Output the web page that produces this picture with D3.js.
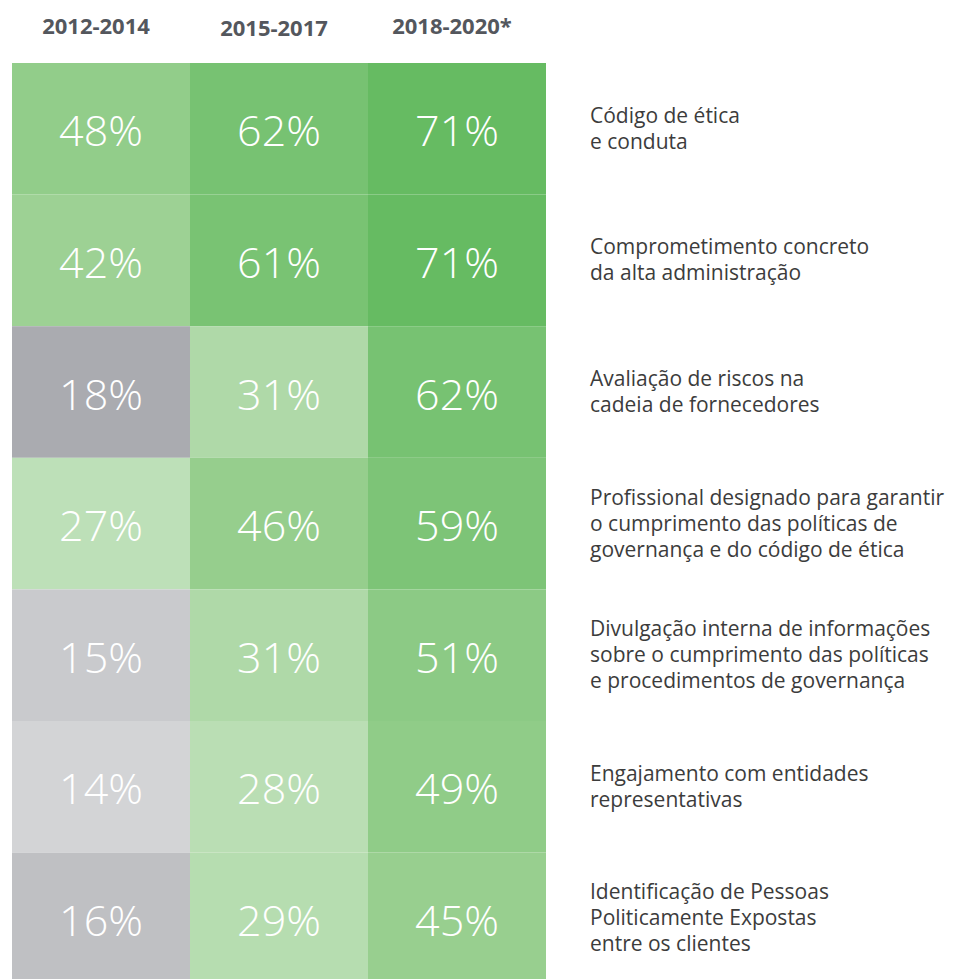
<!DOCTYPE html>
<html lang="pt">
<head>
  <meta charset="UTF-8" />
  <title>Práticas de governança</title>
  <script src="https://d3js.org/d3.v7.min.js"></script>
  <style>
    body {
      margin: 0;
      background: #fff;
      font-family: "Open Sans", sans-serif;
    }
    svg { display: block; }
    .head {
      font-size: 22px;
      font-weight: 700;
      fill: #54575d;
      text-anchor: middle;
    }
    .val {
      font-size: 43px;
      font-weight: 300;
      fill: #fff;
      text-anchor: middle;
      dominant-baseline: central;
    }
    .label {
      font-size: 21px;
      fill: #3c3c3c;
    }
  </style>
</head>
<body>
<svg></svg>
<script>
const periods = ["2012-2014", "2015-2017", "2018-2020*"];
const items = [
  "Código de ética\ne conduta",
  "Comprometimento concreto\nda alta administração",
  "Avaliação de riscos na\ncadeia de fornecedores",
  "Profissional designado para garantir\no cumprimento das políticas de\ngovernança e do código de ética",
  "Divulgação interna de informações\nsobre o cumprimento das políticas\ne procedimentos de governança",
  "Engajamento com entidades\nrepresentativas",
  "Identificação de Pessoas\nPoliticamente Expostas\nentre os clientes"
];
const v2012 = [48, 42, 18, 27, 15, 14, 16];
const v2015 = [62, 61, 31, 46, 31, 28, 29];
const v2018 = [71, 71, 62, 59, 51, 49, 45];

const width = 953, height = 979;
const svg = d3.select("svg").attr("width", width).attr("height", height);

const cells = [];
[v2012, v2015, v2018].forEach((vals, c) => {
  vals.forEach((v, r) => cells.push({ period: periods[c], item: items[r], value: v }));
});

const x = d3.scaleBand().domain(periods).range([12, 546]);
const y = d3.scaleBand().domain(items).range([63, 63 + 131.6 * items.length]);

// cinza para valores baixos, verde para o resto
const grey = d3.scaleLinear().domain([14, 18]).range(["#d3d4d6", "#aaabb0"]);
const green = d3.scaleLinear()
  .domain([27, 31, 45, 71])
  .range(["#bde0b8", "#afd9a8", "#98cf8f", "#66bb62"]);
const color = v => v < 20 ? grey(v) : green(v);

svg.selectAll(".head")
  .data(periods)
  .join("text")
  .attr("class", "head")
  .attr("x", d => x(d) + x.bandwidth() / 2 - 5)
  .attr("y", (d, i) => i === 1 ? 36 : 34)
  .text(d => d);

svg.selectAll("rect")
  .data(cells)
  .join("rect")
  .attr("x", d => x(d.period))
  .attr("y", d => y(d.item))
  .attr("width", x.bandwidth())
  .attr("height", y.bandwidth())
  .attr("fill", d => color(d.value));

svg.selectAll(".val")
  .data(cells)
  .join("text")
  .attr("class", "val")
  .attr("x", d => x(d.period) + x.bandwidth() / 2)
  .attr("y", d => y(d.item) + y.bandwidth() / 2 + 1)
  .text(d => d.value + "%");

const lh = 26;
svg.selectAll(".label")
  .data(items)
  .join("text")
  .attr("class", "label")
  .each(function(d) {
    const lines = d.split("\n");
    const cy = y(d) + y.bandwidth() / 2;
    d3.select(this).selectAll("tspan")
      .data(lines)
      .join("tspan")
      .attr("x", 590)
      .attr("y", (l, i) => cy + (i - (lines.length - 1) / 2) * lh + 7)
      .text(l => l);
  });
</script>
</body>
</html>
